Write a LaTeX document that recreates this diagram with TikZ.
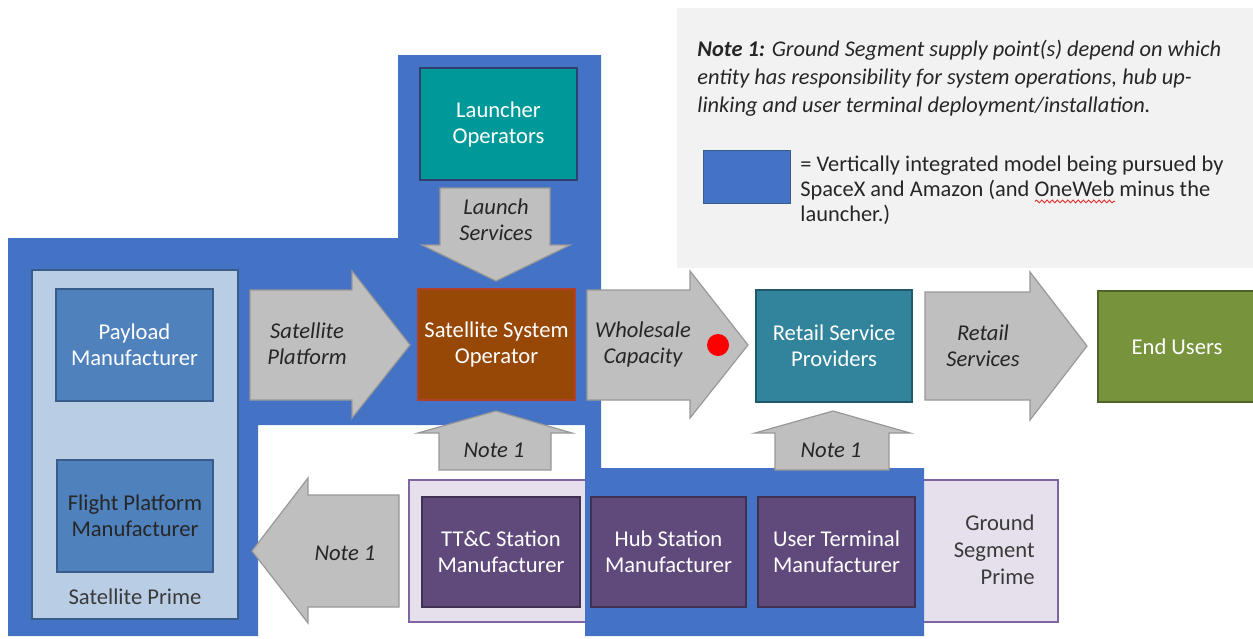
\documentclass[tikz,border=0pt]{standalone}
\usepackage{fontspec}
\setmainfont{Carlito}
\usetikzlibrary{decorations.pathmorphing}

\definecolor{squig}{HTML}{E03030}
\definecolor{vertblue}{HTML}{4472C4}
\definecolor{notebg}{HTML}{F2F2F2}
\definecolor{arrfill}{HTML}{BFBFBF}
\definecolor{arrline}{HTML}{989898}
\definecolor{launchfill}{HTML}{009999}
\definecolor{launchline}{HTML}{2F3F6F}
\definecolor{ssofill}{HTML}{974706}
\definecolor{ssoline}{HTML}{B0402A}
\definecolor{rspfill}{HTML}{31849B}
\definecolor{rspline}{HTML}{215968}
\definecolor{endfill}{HTML}{77933C}
\definecolor{endline}{HTML}{4F6228}
\definecolor{primefill}{HTML}{B9CDE5}
\definecolor{primeline}{HTML}{385D8A}
\definecolor{mfgfill}{HTML}{4F81BD}
\definecolor{purplefill}{HTML}{604A7B}
\definecolor{purpleline}{HTML}{3F3151}
\definecolor{lavfill}{HTML}{E6E0EC}
\definecolor{lavline}{HTML}{8064A2}
\definecolor{labeltext}{HTML}{262626}
\definecolor{primetext}{HTML}{3A3A3A}

% red spell-check squiggle under a word
\newsavebox\wavebox
\newcommand\spellwave[1]{\sbox\wavebox{#1}%
  \rlap{\tikz[baseline=0pt,x=1pt,y=1pt]\draw[squig,line width=0.45pt,decorate,
    decoration={snake,amplitude=0.7pt,segment length=2.6pt}]
    (0,-2.6)--(\the\wd\wavebox,-2.6);}\usebox\wavebox}

\begin{document}
\begin{tikzpicture}[x=0.5pt,y=-0.5pt,
  sz/.style 2 args={minimum width=#1*0.5pt, minimum height=#2*0.5pt},
  box/.style={draw, line width=0.6pt, inner sep=0pt, align=center,
    font=\fontsize{11.3}{13}\selectfont},
  whitebox/.style={box, text=white},
  blockarrow/.style={draw=arrline, fill=arrfill, line width=0.6pt},
  arrowlabel/.style={inner sep=0pt, align=center, text=labeltext,
    font=\fontsize{11.3}{13}\selectfont\itshape}]

\useasboundingbox (0,0) rectangle (1253,638);

% note panel with legend
\fill[notebg] (677,8) rectangle (1260,268);
\node[anchor=west, inner sep=0pt, align=left, text=labeltext,
      font=\fontsize{11.2}{14}\selectfont\itshape] (note) at (697,78)
  {\textbf{Note 1:} Ground Segment supply point(s) depend on which\\
   entity has responsibility for system operations, hub up-\\
   linking and user terminal deployment/installation.};
\node[draw=primeline, fill=vertblue, line width=0.5pt, sz={87}{53}, inner sep=0pt]
  (legendkey) at (746.5,176.5) {};
\node[anchor=west, inner sep=0pt, align=left, text=labeltext,
      font=\fontsize{11.2}{12.5}\selectfont] (legend) at (800,190)
  {= Vertically integrated model being pursued by\\
   SpaceX and Amazon (and \spellwave{OneWeb} minus the\\
   launcher.)};

% ground segment prime frame
\node[draw=lavline, fill=lavfill, line width=0.6pt, sz={649}{142}, inner sep=0pt]
  (groundprime) at (733.5,551) {};

% vertically integrated region
\fill[vertblue] (8,238) -- (398,238) -- (398,55) -- (601,55) -- (601,468)
  -- (924,468) -- (924,636) -- (585,636) -- (585,425) -- (258,425)
  -- (258,636) -- (8,636) -- cycle;

\node[anchor=east, inner sep=0pt, align=right, text=primetext,
      font=\fontsize{11.3}{13.5}\selectfont] (gsptext) at (1035,550)
  {Ground\\Segment\\Prime};

% satellite prime frame
\node[draw=primeline, fill=primefill, line width=0.6pt, sz={206}{349}, inner sep=0pt]
  (satprime) at (135,444.5) {};
\node[inner sep=0pt, text=primetext, font=\fontsize{11.3}{13}\selectfont]
  (satprimetext) at (135,597) {Satellite Prime};
\node[whitebox, draw=primeline, fill=mfgfill, sz={157}{112}] (payload)
  at (134.5,345) {Payload\\Manufacturer};
\node[box, draw=primeline, fill=mfgfill, text=black!85, sz={156}{112}] (flight)
  at (135,516) {Flight Platform\\Manufacturer};

% operators and providers
\node[whitebox, draw=launchline, fill=launchfill, sz={157}{112}] (launcher)
  at (498.5,124) {Launcher\\Operators};
\node[whitebox, draw=ssoline, fill=ssofill, sz={157}{111}] (sso)
  at (496.5,344.5) {Satellite System\\Operator};
\node[whitebox, draw=rspline, fill=rspfill, sz={156}{112}] (rsp)
  at (834,346) {Retail Service\\Providers};
\node[whitebox, draw=endline, fill=endfill, sz={158}{111}] (endusers)
  at (1177,346.5) {End Users};

% ground segment manufacturers
\node[whitebox, draw=purpleline, fill=purplefill, sz={158}{110}] (ttc)
  at (501,552) {TT\&C Station\\Manufacturer};
\node[whitebox, draw=purpleline, fill=purplefill, sz={155}{110}] (hub)
  at (668.5,552) {Hub Station\\Manufacturer};
\node[whitebox, draw=purpleline, fill=purplefill, sz={157}{110}] (uterm)
  at (836.5,552) {User Terminal\\Manufacturer};

% block arrows between the stages
\draw[blockarrow] (250,290) -- (352,290) -- (352,271) -- (410,345)
  -- (352,418) -- (352,400) -- (250,400) -- cycle;
\node[arrowlabel] (platlabel) at (307,344) {Satellite\\Platform};

\draw[blockarrow] (587,290) -- (690,290) -- (690,271) -- (748,345)
  -- (690,418) -- (690,400) -- (587,400) -- cycle;
\node[arrowlabel] (wholelabel) at (643,344) {Wholesale\\Capacity};
\node[circle, fill=red, inner sep=0pt, minimum size=11pt] (reddot) at (718,345) {};

\draw[blockarrow] (925,292) -- (1030,292) -- (1030,272) -- (1087,346)
  -- (1030,420) -- (1030,400) -- (925,400) -- cycle;
\node[arrowlabel] (retaillabel) at (983,346) {Retail\\Services};

\draw[blockarrow] (440,188) -- (550,188) -- (550,245) -- (570,245)
  -- (496,281) -- (422,245) -- (440,245) -- cycle;
\node[arrowlabel] (launchlabel) at (496,220) {Launch\\Services};

\draw[blockarrow] (439,470) -- (551,470) -- (551,433) -- (572,433)
  -- (496,411) -- (418,433) -- (439,433) -- cycle;
\node[arrowlabel] (noteup1) at (494,450) {Note 1};

\draw[blockarrow] (775,470) -- (889,470) -- (889,433) -- (910,433)
  -- (833,411) -- (755,433) -- (775,433) -- cycle;
\node[arrowlabel] (noteup2) at (831,450) {Note 1};

\draw[blockarrow] (399,495) -- (399,607) -- (308,607) -- (308,623)
  -- (252,551) -- (308,478) -- (308,495) -- cycle;
\node[arrowlabel] (noteleft) at (345,553) {Note 1};

\end{tikzpicture}
\end{document}
